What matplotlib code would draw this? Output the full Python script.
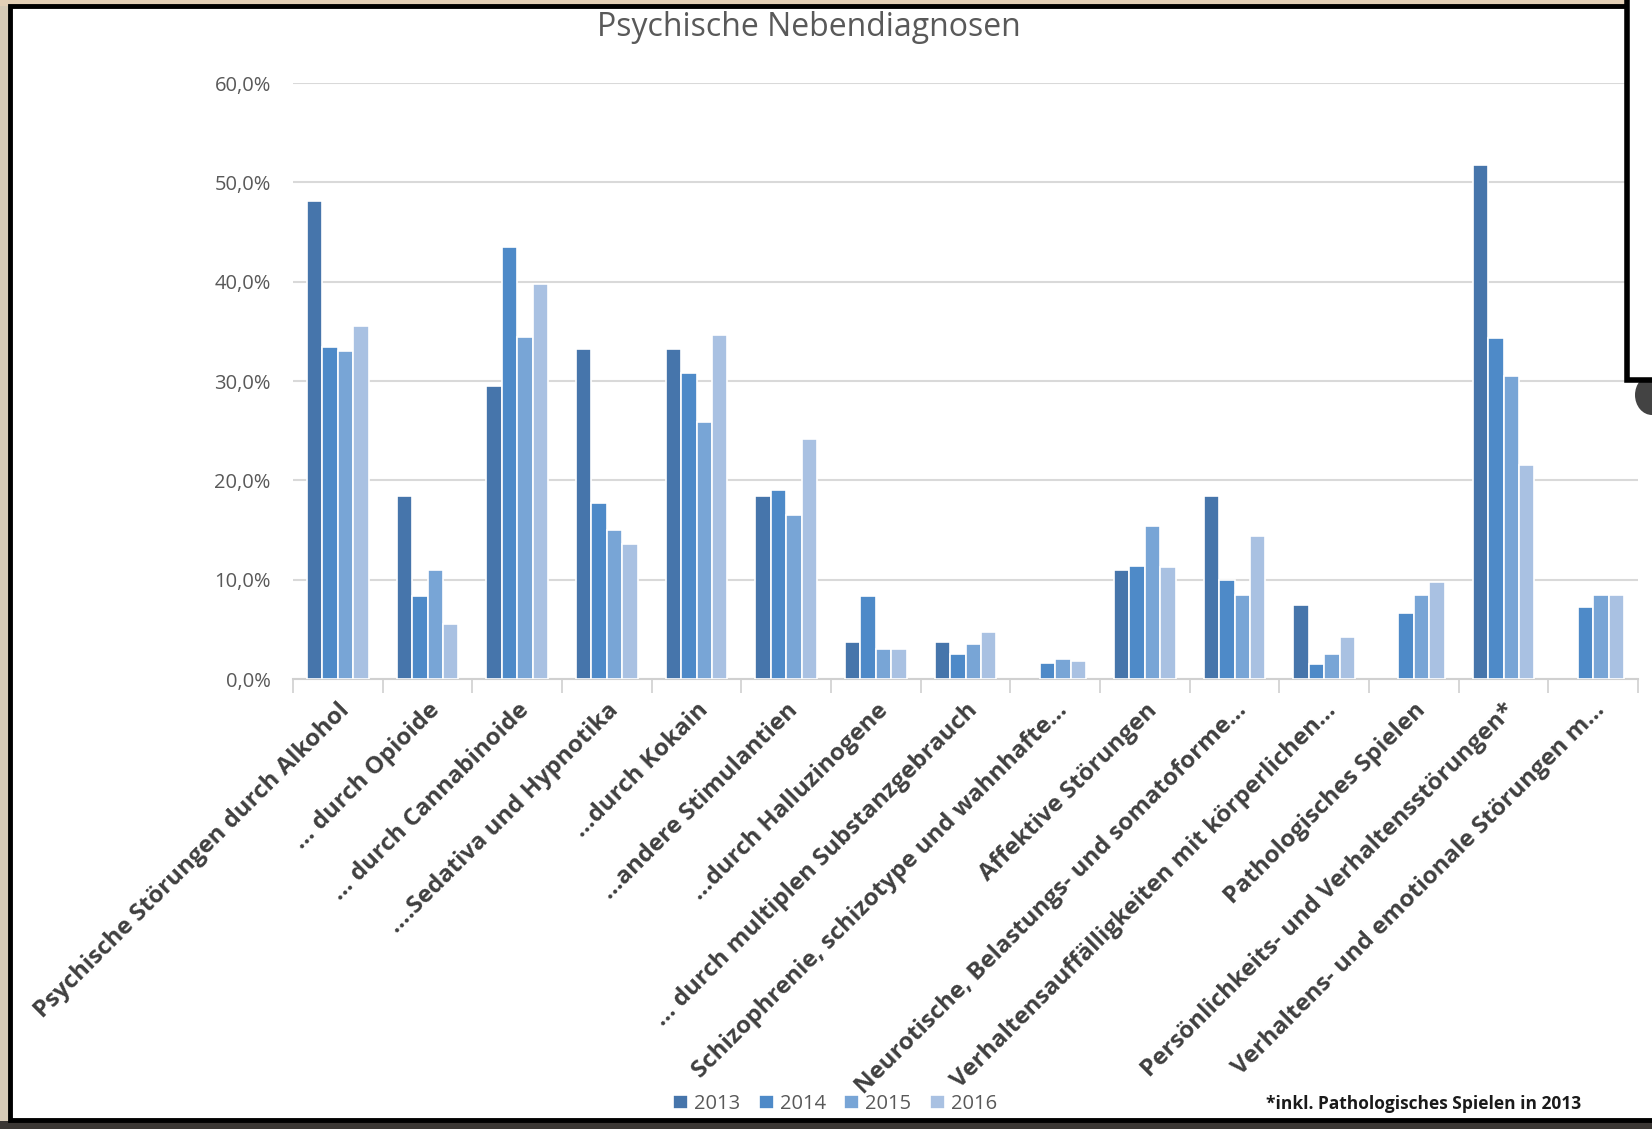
import numpy as np
import matplotlib
matplotlib.use("Agg")
import matplotlib.pyplot as plt
from matplotlib.patches import Rectangle, Ellipse

# Kategorien (x-Achse)
categories = [
    "Psychische Störungen durch Alkohol",
    "... durch Opioide",
    "... durch Cannabinoide",
    "....Sedativa und Hypnotika",
    "...durch Kokain",
    "...andere Stimulantien",
    "...durch Halluzinogene",
    "... durch multiplen Substanzgebrauch",
    "Schizophrenie, schizotype und wahnhafte...",
    "Affektive Störungen",
    "Neurotische, Belastungs- und somatoforme...",
    "Verhaltensauffälligkeiten mit körperlichen...",
    "Pathologisches Spielen",
    "Persönlichkeits- und Verhaltensstörungen*",
    "Verhaltens- und emotionale Störungen m...",
]

years = ["2013", "2014", "2015", "2016"]

# Anteile in Prozent, aus dem Bild geschätzt (nan = kein Balken)
v2013 = [48.1, 18.4, 29.5, 33.2, 33.2, 18.4, 3.7, 3.7, np.nan, 11.0, 18.4, 7.4, np.nan, 51.7, np.nan]
v2014 = [33.4, 8.4, 43.5, 17.7, 30.8, 19.0, 8.4, 2.5, 1.6, 11.4, 10.0, 1.5, 6.6, 34.3, 7.2]
v2015 = [33.0, 11.0, 34.4, 15.0, 25.9, 16.5, 3.0, 3.5, 2.0, 15.4, 8.5, 2.5, 8.5, 30.5, 8.5]
v2016 = [35.5, 5.5, 39.8, 13.6, 34.6, 24.2, 3.0, 4.7, 1.8, 11.3, 14.4, 4.2, 9.8, 21.5, 8.5]

colors = ["#4675AB", "#4E8AC8", "#78A5D6", "#A9C1E2"]

W, H = 1652, 1129
fig = plt.figure(figsize=(W / 100, H / 100), dpi=100)
fig.patch.set_facecolor("#d6cab6")


def px_rect(x0, y0, x1, y1, **kw):
    # Rechteck in Pixelkoordinaten (y von oben)
    r = Rectangle((x0 / W, 1 - y1 / H), (x1 - x0) / W, (y1 - y0) / H,
                  transform=fig.transFigure, **kw)
    fig.add_artist(r)
    return r


# Hintergrund: Papier oben/links, dunkler Streifen unten, weisses Panel
px_rect(0, 0, W, 6, facecolor="#e3cfb6", edgecolor="none", zorder=0)
px_rect(0, 1121, W, H, facecolor="#3b3734", edgecolor="none", zorder=0)
px_rect(10, 6, W + 10, 1120, facecolor="white", edgecolor="black", linewidth=3.5, zorder=0)

ax = fig.add_axes([293 / W, 1 - 679 / H, (1638 - 293) / W, (679 - 83) / H])
ax.set_facecolor("none")

x = np.arange(len(categories))
bw = 0.172
series = [v2013, v2014, v2015, v2016]
for i, (vals, col, yr) in enumerate(zip(series, colors, years)):
    ax.bar(x + (i - 1.5) * bw, vals, width=bw, color=col, edgecolor="white",
           linewidth=1.2, label=yr, zorder=3)

ax.set_xlim(-0.5, len(categories) - 0.5)
ax.set_ylim(0, 60)
ax.set_yticks(np.arange(0, 61, 10))
ax.set_yticklabels([f"{v:.1f}".replace(".", ",") + "%" for v in range(0, 61, 10)],
                   fontsize=14.5, color="#595959", family="Open Sans")
ax.yaxis.grid(True, color="#d9d9d9", linewidth=1.5, zorder=0)
ax.tick_params(axis="y", length=0, pad=16)

ax.set_xticks(x)
ax.set_xticklabels(categories, rotation=45, ha="right", rotation_mode="anchor",
                   fontsize=17.3, color="#404040", family="Open Sans", fontweight="bold")
ax.tick_params(axis="x", which="major", length=0, pad=14)
ax.set_xticks(np.arange(-0.5, len(categories)), minor=True)
ax.tick_params(axis="x", which="minor", length=10, color="#d0d0d0", width=1.2)

for s in ["top", "right", "left"]:
    ax.spines[s].set_visible(False)
ax.spines["bottom"].set_color("#d0d0d0")
ax.spines["bottom"].set_linewidth(1.5)

fig.text(809 / W, 1 - 28 / H, "Psychische Nebendiagnosen", ha="center", va="center",
         fontsize=23, color="#595959", family="Open Sans")

leg = fig.legend(loc="center", bbox_to_anchor=(835 / W, 1 - 1104 / H), ncol=4,
                 frameon=False, handlelength=0.75, handleheight=0.75, handletextpad=0.3,
                 columnspacing=0.9, prop={"family": "Open Sans", "size": 14.5})
for t in leg.get_texts():
    t.set_color("#595959")

fig.text(1581 / W, 1 - 1104 / H, "*inkl. Pathologisches Spielen in 2013", ha="right",
         va="center", fontsize=12.5, color="#1a1a1a", family="Open Sans", fontweight="bold")

# ueberlappender Rahmen oben rechts mit Schatten
fig.add_artist(Ellipse((1652 / W, 1 - 395 / H), 34 / W, 40 / H, transform=fig.transFigure,
                       facecolor="#222222", edgecolor="none", alpha=0.85, zorder=9))
px_rect(1627, -10, W + 10, 380, facecolor="white", edgecolor="black", linewidth=4, zorder=10)

fig.savefig("out.png", dpi=100, facecolor=fig.get_facecolor())
